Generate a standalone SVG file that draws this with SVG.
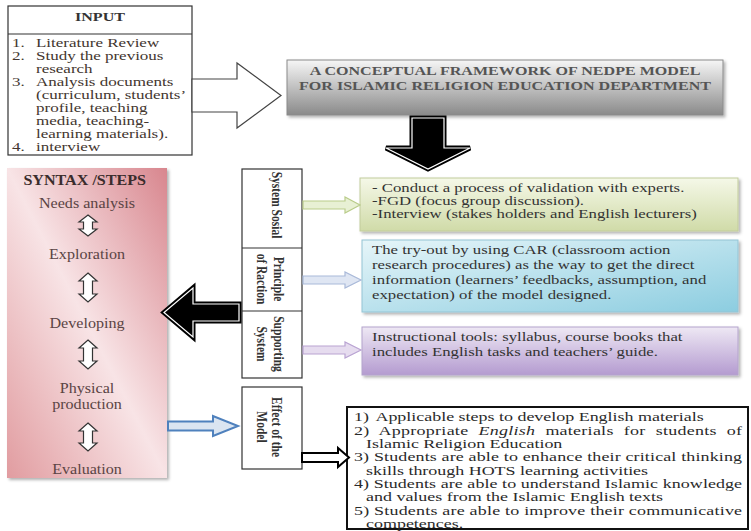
<svg xmlns="http://www.w3.org/2000/svg" width="751" height="531" viewBox="0 0 751 531">
<style>
text{font-family:"Liberation Serif","Times New Roman",serif;}
.inp{font-size:12.7px;fill:#43362f;}
.ttl{font-size:12px;font-weight:bold;fill:#555;text-anchor:middle;}
.pan{font-size:14px;fill:#5a4444;text-anchor:middle;}
.lab{font-size:11.5px;font-weight:bold;fill:#333;text-anchor:middle;}
.box{font-size:12.5px;fill:#333;}
.out{font-size:13.4px;fill:#2a2a2a;}
.ud{fill:#fff;stroke:#333;stroke-width:1.2;}
</style>
<defs>
<linearGradient id="gTitle" x1="0" y1="0" x2="0" y2="1"><stop offset="0" stop-color="#f6f6f6"/><stop offset="1" stop-color="#8a8a8a"/></linearGradient>
<linearGradient id="gPink" x1="1" y1="0" x2="0" y2="1"><stop offset="0" stop-color="#d8868e"/><stop offset="0.5" stop-color="#f8e4e6"/><stop offset="1" stop-color="#e19ca0"/></linearGradient>
<linearGradient id="gGreen" x1="0" y1="0" x2="0" y2="1"><stop offset="0" stop-color="#f5f8e8"/><stop offset="1" stop-color="#d0dba8"/></linearGradient>
<linearGradient id="gBlue" x1="0" y1="0" x2="1" y2="1"><stop offset="0" stop-color="#e6f5f9"/><stop offset="1" stop-color="#8ccde0"/></linearGradient>
<linearGradient id="gPurple" x1="0" y1="0" x2="0" y2="1"><stop offset="0" stop-color="#eee8f4"/><stop offset="1" stop-color="#b49bd0"/></linearGradient>
<filter id="sh" x="-10%" y="-10%" width="120%" height="130%"><feDropShadow dx="2" dy="2" stdDeviation="1.5" flood-color="#000" flood-opacity="0.3"/></filter>
</defs>

<g id="input">
<rect x="8" y="6" width="184" height="149" fill="#fff" stroke="#333" stroke-width="1.2"/>
<line x1="8" y1="34" x2="192" y2="34" stroke="#333" stroke-width="1.2"/>
<text x="100" y="21" style="font-size:12px;font-weight:bold;fill:#333;text-anchor:middle" transform="translate(100,0) scale(1.34,1) translate(-100,0)">INPUT</text>
<g transform="translate(12,0) scale(1.34,1)" class="inp">
<text y="47"><tspan x="0">1.</tspan><tspan x="17.9">Literature Review</tspan></text>
<text y="60"><tspan x="0">2.</tspan><tspan x="17.9">Study the previous</tspan></text>
<text y="73" x="17.9">research</text>
<text y="86"><tspan x="0">3.</tspan><tspan x="17.9">Analysis documents</tspan></text>
<text y="99" x="17.9">(curriculum, students’</text>
<text y="112" x="17.9">profile, teaching</text>
<text y="125" x="17.9">media, teaching-</text>
<text y="138" x="17.9">learning materials).</text>
<text y="151"><tspan x="0">4.</tspan><tspan x="17.9">interview</tspan></text>
</g>
</g>

<g id="title">
<rect x="287" y="60" width="436" height="55" fill="url(#gTitle)" stroke="#8a8a8a" stroke-width="1" filter="url(#sh)"/>
<g transform="translate(505,0) scale(1.34,1)">
<text class="ttl" x="0" y="75.5">A CONCEPTUAL FRAMEWORK OF NEDPE MODEL</text>
<text class="ttl" x="0" y="90.5">FOR ISLAMIC RELIGION EDUCATION DEPARTMENT</text>
</g>
</g>

<g id="syntax">
<rect x="7" y="168" width="160" height="310" fill="url(#gPink)" filter="url(#sh)"/>
<g transform="translate(87,0) scale(1.15,1)">
<text class="pan" x="-2" y="185" style="font-weight:bold;fill:#3a2c2c">SYNTAX /STEPS</text>
<text class="pan" x="0" y="208">Needs analysis</text>
<text class="pan" x="0" y="259">Exploration</text>
<text class="pan" x="0" y="328">Developing</text>
<text class="pan" x="0" y="393">Physical</text>
<text class="pan" x="0" y="409">production</text>
<text class="pan" x="0" y="474">Evaluation</text>
</g>
<polygon class="ud" points="88,215 97,222 92.5,222 92.5,229 97,229 88,236 79,229 83.5,229 83.5,222 79,222"/>
<polygon class="ud" points="88,273 97,281 92.5,281 92.5,294 97,294 88,302 79,294 83.5,294 83.5,281 79,281"/>
<polygon class="ud" points="88,340 97,348 92.5,348 92.5,361 97,361 88,369 79,361 83.5,361 83.5,348 79,348"/>
<polygon class="ud" points="88,423 97,431 92.5,431 92.5,443 97,443 88,451 79,443 83.5,443 83.5,431 79,431"/>
</g>

<g id="labels">
<rect x="242" y="169" width="60" height="209" fill="#fff" stroke="#333" stroke-width="1.2"/>
<line x1="242" y1="248" x2="302" y2="248" stroke="#333" stroke-width="1.2"/>
<line x1="242" y1="311" x2="302" y2="311" stroke="#333" stroke-width="1.2"/>
<text class="lab" transform="translate(272,205) rotate(90) scale(1,1.34)">System Sosial</text>
<text class="lab" transform="translate(274,279) rotate(90) scale(1,1.34)">Principle</text>
<text class="lab" transform="translate(257,279) rotate(90) scale(1,1.34)">of Raction</text>
<text class="lab" transform="translate(274,344) rotate(90) scale(1,1.34)">Supporting</text>
<text class="lab" transform="translate(257,344) rotate(90) scale(1,1.34)">System</text>
</g>

<g id="effect">
<rect x="242" y="387" width="60" height="82" fill="#fff" stroke="#333" stroke-width="1.2"/>
<text class="lab" transform="translate(272,427) rotate(90) scale(1,1.34)">Effect of the</text>
<text class="lab" transform="translate(257,427) rotate(90) scale(1,1.34)">Model</text>
</g>

<g id="box-social">
<rect x="360" y="178" width="378" height="53" fill="url(#gGreen)" stroke="#c2cc9c" stroke-width="1" filter="url(#sh)"/>
<g transform="translate(372,0) scale(1.34,1)" class="box">
<text x="0" y="192">- Conduct a process of validation with experts.</text>
<text x="0" y="205">-FGD (focus group discussion).</text>
<text x="0" y="218">-Interview (stakes holders and English lecturers)</text>
</g>
</g>

<g id="box-reaction">
<rect x="362" y="240" width="376" height="72" fill="url(#gBlue)" stroke="#94c4d4" stroke-width="1" filter="url(#sh)"/>
<g transform="translate(372,0) scale(1.34,1)" class="box">
<text x="0" y="254">The try-out by using CAR (classroom action</text>
<text x="0" y="269">research procedures) as the way to get the direct</text>
<text x="0" y="284">information (learners’ feedbacks, assumption, and</text>
<text x="0" y="299">expectation) of the model designed.</text>
</g>
</g>

<g id="box-support">
<rect x="362" y="327" width="376" height="48" fill="url(#gPurple)" stroke="#b4a4cc" stroke-width="1" filter="url(#sh)"/>
<g transform="translate(372,0) scale(1.34,1)" class="box">
<text x="0" y="341">Instructional tools: syllabus, course books that</text>
<text x="0" y="356">includes English tasks and teachers’ guide.</text>
</g>
</g>

<g id="outcomes">
<rect x="347" y="407" width="401" height="122" fill="#fff" stroke="#111" stroke-width="2"/>
<g transform="translate(354,0) scale(1.34,1)" class="out">
<text y="421.5"><tspan x="0">1)</tspan><tspan x="16">Applicable steps to develop English materials</tspan></text>
<text x="0" y="434.8" textLength="289.6" lengthAdjust="spacing" style="word-spacing:4px">2) Appropriate <tspan font-style="italic">English</tspan> materials for students of</text>
<text x="9" y="448.1">Islamic Religion Education</text>
<text x="0" y="461.4" textLength="289.6" lengthAdjust="spacing">3) Students are able to enhance their critical thinking</text>
<text x="9" y="474.7">skills through HOTS learning activities</text>
<text x="0" y="488" textLength="289.6" lengthAdjust="spacing">4) Students are able to understand Islamic knowledge</text>
<text x="9" y="501.3">and values from the Islamic English texts</text>
<text x="0" y="514.6" textLength="289.6" lengthAdjust="spacing">5) Students are able to improve their communicative</text>
<text x="9" y="527.9">competences.</text>
</g>
</g>

<g id="connectors">
<polygon points="192,79 237,79 237,63 281,95.5 237,128 237,112 192,112" fill="#fff" stroke="#444" stroke-width="1.2"/>
<polygon points="412,118 444,118 444,148 470,148 428,169 386,148 412,148" fill="#000" stroke="#000" stroke-width="5" stroke-linejoin="miter"/>
<polygon points="412,118 444,118 444,148 470,148 428,169 386,148 412,148" fill="#000" stroke="#fff" stroke-width="1.2"/>
<polygon points="239,304 193,304 193,288 164,312.5 193,337 193,321 239,321" fill="#000" stroke="#000" stroke-width="5"/>
<polygon points="239,304 193,304 193,288 164,312.5 193,337 193,321 239,321" fill="#000" stroke="#fff" stroke-width="1.2"/>
<polygon points="303,201 345,201 345,197 360,205 345,213 345,209 303,209" fill="#e8f0d4" stroke="#b9cc8a" stroke-width="1.2"/>
<polygon points="303,276 345,276 345,272 361,280 345,288 345,284 303,284" fill="#dfe6f3" stroke="#a9b9d9" stroke-width="1.2"/>
<polygon points="303,346 345,346 345,342 361,350 345,358 345,354 303,354" fill="#e6dcef" stroke="#b9a3d2" stroke-width="1.2"/>
<polygon points="168,421.5 213,421.5 213,416 238,426 213,436 213,430.5 168,430.5" fill="#dbe5f1" stroke="#4f81bd" stroke-width="2"/>
<polygon points="302,453 338,453 338,448 349,457.5 338,467 338,462 302,462" fill="#fff" stroke="#000" stroke-width="2"/>
</g>
</svg>
